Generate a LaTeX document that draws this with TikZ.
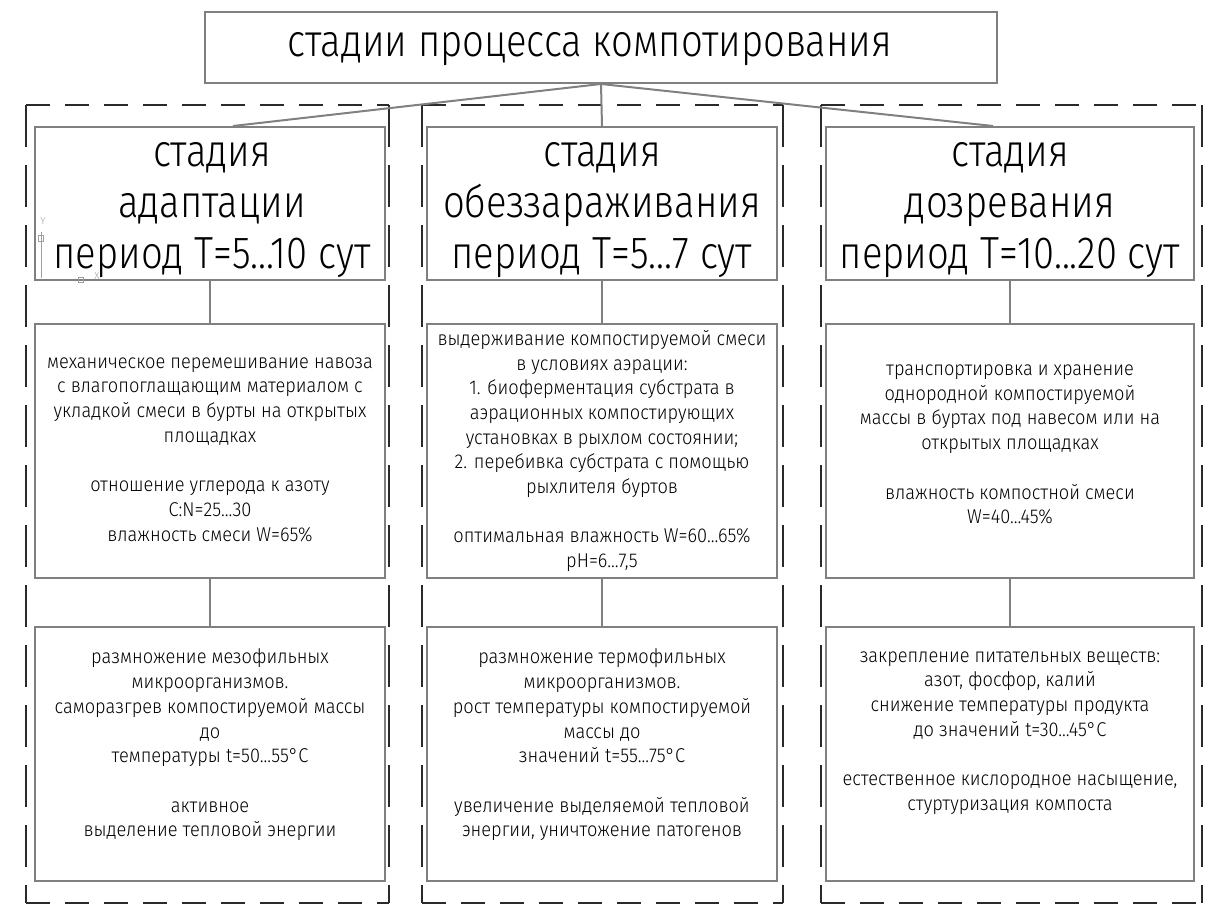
\documentclass[tikz,border=0pt]{standalone}
\usepackage{fontspec}
\setmainfont{Fira Sans Light}
\newfontfamily\stagefont{Fira Sans Light}[FakeStretch=0.85]
\newfontfamily\bodyfont{Fira Sans Light}[FakeStretch=0.91]
\newfontfamily\ucsfont{Fira Sans Light}
\usetikzlibrary{calc}
\definecolor{boxgray}{HTML}{808080}
\definecolor{dashgray}{HTML}{2A2A2A}
\definecolor{ucsgray}{HTML}{A0A0A0}
\tikzset{
  box/.style={draw=boxgray, line width=2pt, rectangle, inner sep=0pt},
  link/.style={draw=boxgray, line width=2pt},
  frame/.style={draw=dashgray, line width=1.4pt},
  hdash/.style={dash pattern=on 24pt off 15pt},
  vdash/.style={dash pattern=on 42pt off 18pt},
  stagetxt/.style={align=center, inner sep=0pt, font=\stagefont\fontsize{45}{51}\selectfont},
  bodytxt/.style={align=center, inner sep=0pt, font=\bodyfont\fontsize{20}{24.7}\selectfont},
  ucs/.style={draw=ucsgray, line width=1pt},
  ucstxt/.style={text=ucsgray, inner sep=0pt, font=\ucsfont\fontsize{10}{11}\selectfont},
}
\begin{document}
\begin{tikzpicture}[x=1pt,y=-1pt]
\useasboundingbox (0,0) rectangle (1208,912);

% dashed column frames
\draw[frame,hdash] (26,105) -- (389,105) (26,903) -- (389,903);
\draw[frame,vdash] (26,105) -- (26,903) (389,105) -- (389,903);
\draw[frame,hdash] (422,105) -- (783,105) (422,903) -- (783,903);
\draw[frame,vdash] (422,105) -- (422,903) (783,105) -- (783,903);
\draw[frame,hdash] (821,105) -- (1202,105) (821,903) -- (1202,903);
\draw[frame,vdash] (821,105) -- (821,903) (1202,105) -- (1202,903);

% title
\node[box, minimum width=792pt, minimum height=71pt] (t) at (601,47.5) {};
\node[stagetxt] (tt) at (590,49) {стадии процесса компотирования};

% stage boxes
\node[box, minimum width=350pt, minimum height=153pt] (s1) at (210,203.5) {};
\node[box, minimum width=350pt, minimum height=153pt] (s2) at (602,203.5) {};
\node[box, minimum width=368pt, minimum height=153pt] (s3) at (1010,203.5) {};
\node[stagetxt] (s1t) at (212,210) {стадия\\адаптации\\период Т=5...10 сут};
\node[stagetxt] (s2t) at (602,210) {стадия\\обеззараживания\\период Т=5...7 сут};
\node[stagetxt] (s3t) at (1010,210) {стадия\\дозревания\\период Т=10...20 сут};

% middle boxes
\node[box, minimum width=350pt, minimum height=254pt] (m1) at (210,451) {};
\node[box, minimum width=350pt, minimum height=254pt] (m2) at (602,451) {};
\node[box, minimum width=368pt, minimum height=254pt] (m3) at (1010,451) {};
\node[bodytxt] (m1t) at (210,449.5) {механическое перемешивание навоза\\
с влагопоглащающим материалом с\\
укладкой смеси в бурты на открытых\\
площадках\\[24.7pt]
отношение углерода к азоту\\
C:N=25...30\\
влажность смеси W=65\%};
\node[bodytxt] (m2t) at (602,451) {выдерживание компостируемой смеси\\
в условиях аэрации:\\
1. биоферментация субстрата в\\
аэрационных компостирующих\\
установках в рыхлом состоянии;\\
2. перебивка субстрата с помощью\\
рыхлителя буртов\\[24.7pt]
оптимальная влажность W=60...65\%\\
pH=6...7,5};
\node[bodytxt] (m3t) at (1010,444.5) {транспортировка и хранение\\
однородной компостируемой\\
массы в буртах под навесом или на\\
открытых площадках\\[24.7pt]
влажность компостной смеси\\
W=40...45\%};

% bottom boxes
\node[box, minimum width=350pt, minimum height=254pt] (b1) at (210,754) {};
\node[box, minimum width=350pt, minimum height=254pt] (b2) at (602,754) {};
\node[box, minimum width=368pt, minimum height=254pt] (b3) at (1010,754) {};
\node[bodytxt] (b1t) at (210,745) {размножение мезофильных\\
микроорганизмов.\\
саморазгрев компостируемой массы\\
до\\
температуры t=50...55°С\\[24.7pt]
активное\\
выделение тепловой энергии};
\node[bodytxt] (b2t) at (602,745) {размножение термофильных\\
микроорганизмов.\\
рост температуры компостируемой\\
массы до\\
значений t=55...75°С\\[24.7pt]
увеличение выделяемой тепловой\\
энергии, уничтожение патогенов};
\node[bodytxt] (b3t) at (1010,733) {закрепление питательных веществ:\\
азот, фосфор, калий\\
снижение температуры продукта\\
до значений t=30...45°С\\[24.7pt]
естественное кислородное насыщение,\\
стуртуризация компоста};

% connectors
\draw[link] (t.south) -- ($(s1.north)+(23,0)$);
\draw[link] (t.south) -- (s2.north);
\draw[link] (t.south) -- ($(s3.north)+(-17,0)$);
\draw[link] (s1.south) -- (m1.north);
\draw[link] (s2.south) -- (m2.north);
\draw[link] (s3.south) -- (m3.north);
\draw[link] (m1.south) -- (b1.north);
\draw[link] (m2.south) -- (b2.north);
\draw[link] (m3.south) -- (b3.north);

% UCS icon
\draw[ucs] (41,278) -- (41,232);
\draw[ucs] (38.5,236) rectangle (43.5,242);
\draw[ucs] (78,278) rectangle (83,283);
\node[ucstxt] (uy) at (43,221) {Y};
\node[ucstxt] (ux) at (97,276) {X};
\end{tikzpicture}
\end{document}
